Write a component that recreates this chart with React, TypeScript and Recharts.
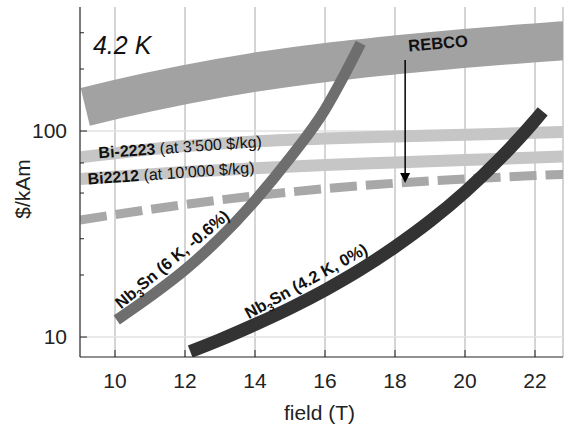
import React from "react";
import {
  LineChart,
  Line,
  XAxis,
  YAxis,
  CartesianGrid,
  ReferenceLine,
  ReferenceDot,
  Label,
} from "recharts";

// axis ticks
const fieldTicks = [10, 12, 14, 16, 18, 20, 22];
const costTicks = [9, 10, 20, 30, 40, 50, 60, 70, 80, 90, 100, 200, 300];
const costLabels = [10, 100];

// REBCO band
const rebcoField = [9.15, 10, 12, 14, 16, 18, 20, 22, 23];
const rebcoCost = [131, 142, 168, 193, 215, 234, 252, 268, 276];

// Bi-2223, Bi2212 and the dashed REBCO target
const bandField = [9, 10, 12, 14, 16, 18, 20, 22, 23];
const bi2223Cost = [74.5, 78, 84.5, 89, 92, 94, 96, 98, 99];
const bi2212Cost = [58.5, 60, 63.3, 66, 68.4, 70.3, 72.3, 74.3, 75.5];
const targetCost = [37, 39.3, 44, 48.5, 52.5, 55.8, 58.5, 60.8, 61.8];

// Nb3Sn (6 K, -0.6%)
const nb6Field = [10.05, 11, 12, 13, 14, 15, 16, 16.5, 17.02];
const nb6Cost = [12.1, 15.7, 21.2, 30.3, 46, 74, 127, 180, 267];

// Nb3Sn (4.2 K, 0%)
const nb42Field = [12.15, 13, 14, 15, 16, 17, 18, 19, 20, 21, 22, 22.22];
const nb42Cost = [8.5, 9.7, 11.5, 13.8, 16.9, 21.2, 27.4, 36.5, 50.6, 73.5, 112.5, 124.7];

const pts = (xs: number[], ys: number[]) => xs.map((x, i) => ({ x, y: ys[i] }));

const FONT = "'Liberation Sans', Arial, sans-serif";
const X_DOMAIN: [number, number] = [9, 22.8];
const Y_DOMAIN: [number, number] = [8, 400];

const BottomTick = (p: any) => (
  <g>
    <line x1={p.x} x2={p.x} y1={p.y} y2={p.y - 7} stroke="#222" />
    <text x={p.x} y={p.y + 31} textAnchor="middle" fontSize={21} fill="#222" fontFamily={FONT}>
      {p.payload.value}
    </text>
  </g>
);

const TopTick = (p: any) => (
  <line x1={p.x} x2={p.x} y1={p.y} y2={p.y + 7} stroke="#222" />
);

const LeftTick = (p: any) => {
  const v = p.payload.value;
  const major = costLabels.includes(v);
  return (
    <g>
      <line x1={p.x} x2={p.x + (major ? 7 : 4)} y1={p.y} y2={p.y} stroke="#222" />
      {major && (
        <text x={p.x - 13} y={p.y} dy="0.35em" textAnchor="end" fontSize={21} fill="#222" fontFamily={FONT}>
          {v}
        </text>
      )}
    </g>
  );
};

const note =
  (content: React.ReactNode, angle: number, size: number, opts: any = {}) =>
  (p: any) => (
    <text
      x={p.cx}
      y={p.cy}
      dy="0.35em"
      transform={`rotate(${angle}, ${p.cx}, ${p.cy})`}
      textAnchor={opts.anchor || "middle"}
      fontSize={size}
      fontWeight={opts.weight || "bold"}
      fontStyle={opts.style || "normal"}
      fill="#111"
      fontFamily={FONT}
    >
      {content}
    </text>
  );

const nb = (rest: string) => [
  <tspan key="a">Nb</tspan>,
  <tspan key="b" dy={4} fontSize={11}>3</tspan>,
  <tspan key="c" dy={-4}>{"Sn " + rest}</tspan>,
];

const arrowHead = (p: any) => (
  <polygon points={`${p.cx - 5},${p.cy - 10} ${p.cx + 5},${p.cy - 10} ${p.cx},${p.cy}`} fill="#000" />
);

export default function App() {
  return (
    <div style={{ position: "absolute", left: 0, top: 0, background: "#fff" }}>
      <LineChart width={564} height={427} margin={{ top: 7, right: 1, bottom: 0, left: 0 }}>
        <CartesianGrid horizontal={false} stroke="#aaa" />
        <ReferenceLine y={10} stroke="#e2e2e2" strokeWidth={1.5} />
        <ReferenceLine y={100} stroke="#e2e2e2" strokeWidth={1.5} />
        <XAxis
          type="number"
          dataKey="x"
          domain={X_DOMAIN}
          ticks={fieldTicks}
          allowDataOverflow
          height={70}
          tickSize={0}
          tickMargin={0}
          tickLine={false}
          tick={BottomTick}
          stroke="#222"
        >
          <Label
            content={(p: any) => (
              <text
                x={p.viewBox.x + p.viewBox.width / 2 - 2}
                y={p.viewBox.y + 63}
                textAnchor="middle"
                fontSize={21}
                fill="#222"
                fontFamily={FONT}
              >
                field (T)
              </text>
            )}
          />
        </XAxis>
        <XAxis
          xAxisId="top"
          orientation="top"
          type="number"
          domain={X_DOMAIN}
          ticks={fieldTicks}
          height={0}
          tickSize={0}
          tickMargin={0}
          tickLine={false}
          tick={TopTick}
          stroke="#222"
        />
        <YAxis
          type="number"
          scale="log"
          domain={Y_DOMAIN}
          ticks={costTicks}
          allowDataOverflow
          width={80}
          tickSize={0}
          tickMargin={0}
          tickLine={false}
          tick={LeftTick}
          stroke="#222"
        >
          <Label
            content={(p: any) => {
              const cx = p.viewBox.x + 23;
              const cy = p.viewBox.y + p.viewBox.height / 2 + 7;
              return (
                <text
                  x={cx}
                  y={cy}
                  dy="0.35em"
                  transform={`rotate(-90, ${cx}, ${cy})`}
                  textAnchor="middle"
                  fontSize={21}
                  fill="#222"
                  fontFamily={FONT}
                >
                  $/kAm
                </text>
              );
            }}
          />
        </YAxis>
        <YAxis
          yAxisId="right"
          orientation="right"
          type="number"
          scale="log"
          domain={Y_DOMAIN}
          width={0}
          tick={false}
          tickLine={false}
          stroke="#222"
        />

        <Line data={pts(rebcoField, rebcoCost)} dataKey="y" type="monotone" stroke="#a2a2a2" strokeWidth={39} strokeLinecap="butt" dot={false} activeDot={false} isAnimationActive={false} />
        <Line data={pts(bandField, bi2223Cost)} dataKey="y" type="monotone" stroke="#c6c6c6" strokeWidth={12} strokeLinecap="butt" dot={false} activeDot={false} isAnimationActive={false} />
        <Line data={pts(bandField, bi2212Cost)} dataKey="y" type="monotone" stroke="#c6c6c6" strokeWidth={12} strokeLinecap="butt" dot={false} activeDot={false} isAnimationActive={false} />
        <Line data={pts(bandField, targetCost)} dataKey="y" type="monotone" stroke="#a8a8a8" strokeWidth={9} strokeDasharray="27 9" strokeLinecap="butt" dot={false} activeDot={false} isAnimationActive={false} />
        <Line data={pts(nb6Field, nb6Cost)} dataKey="y" type="monotone" stroke="#6e6e6e" strokeWidth={11} strokeLinecap="butt" dot={false} activeDot={false} isAnimationActive={false} />
        <Line data={pts(nb42Field, nb42Cost)} dataKey="y" type="monotone" stroke="#333" strokeWidth={13} strokeLinecap="butt" dot={false} activeDot={false} isAnimationActive={false} />

        <ReferenceLine segment={[{ x: 18.29, y: 221 }, { x: 18.29, y: 62 }]} stroke="#000" strokeWidth={1.5} />
        <ReferenceDot x={18.29} y={56} r={1} shape={arrowHead} />

        <ReferenceDot x={9.37} y={260} r={1} shape={note("4.2 K", 0, 25, { anchor: "start", weight: "normal", style: "italic" })} />
        <ReferenceDot x={19.23} y={267} r={1} shape={note("REBCO", -5, 16.5)} />
        <ReferenceDot
          x={11.86}
          y={83.6}
          r={1}
          shape={note(
            [<tspan key="a">Bi-2223</tspan>, <tspan key="b" fontWeight="normal"> (at 3’500 $/kg)</tspan>],
            -4,
            16
          )}
        />
        <ReferenceDot
          x={11.6}
          y={62.5}
          r={1}
          shape={note(
            [<tspan key="a">Bi2212</tspan>, <tspan key="b" fontWeight="normal"> (at 10’000 $/kg)</tspan>],
            -4,
            16
          )}
        />
        <ReferenceDot x={11.63} y={23.9} r={1} shape={note(nb("(6 K, -0.6%)"), -40, 16.5)} />
        <ReferenceDot x={15.46} y={18.7} r={1} shape={note(nb("(4.2 K, 0%)"), -29, 16.5)} />
      </LineChart>
    </div>
  );
}
